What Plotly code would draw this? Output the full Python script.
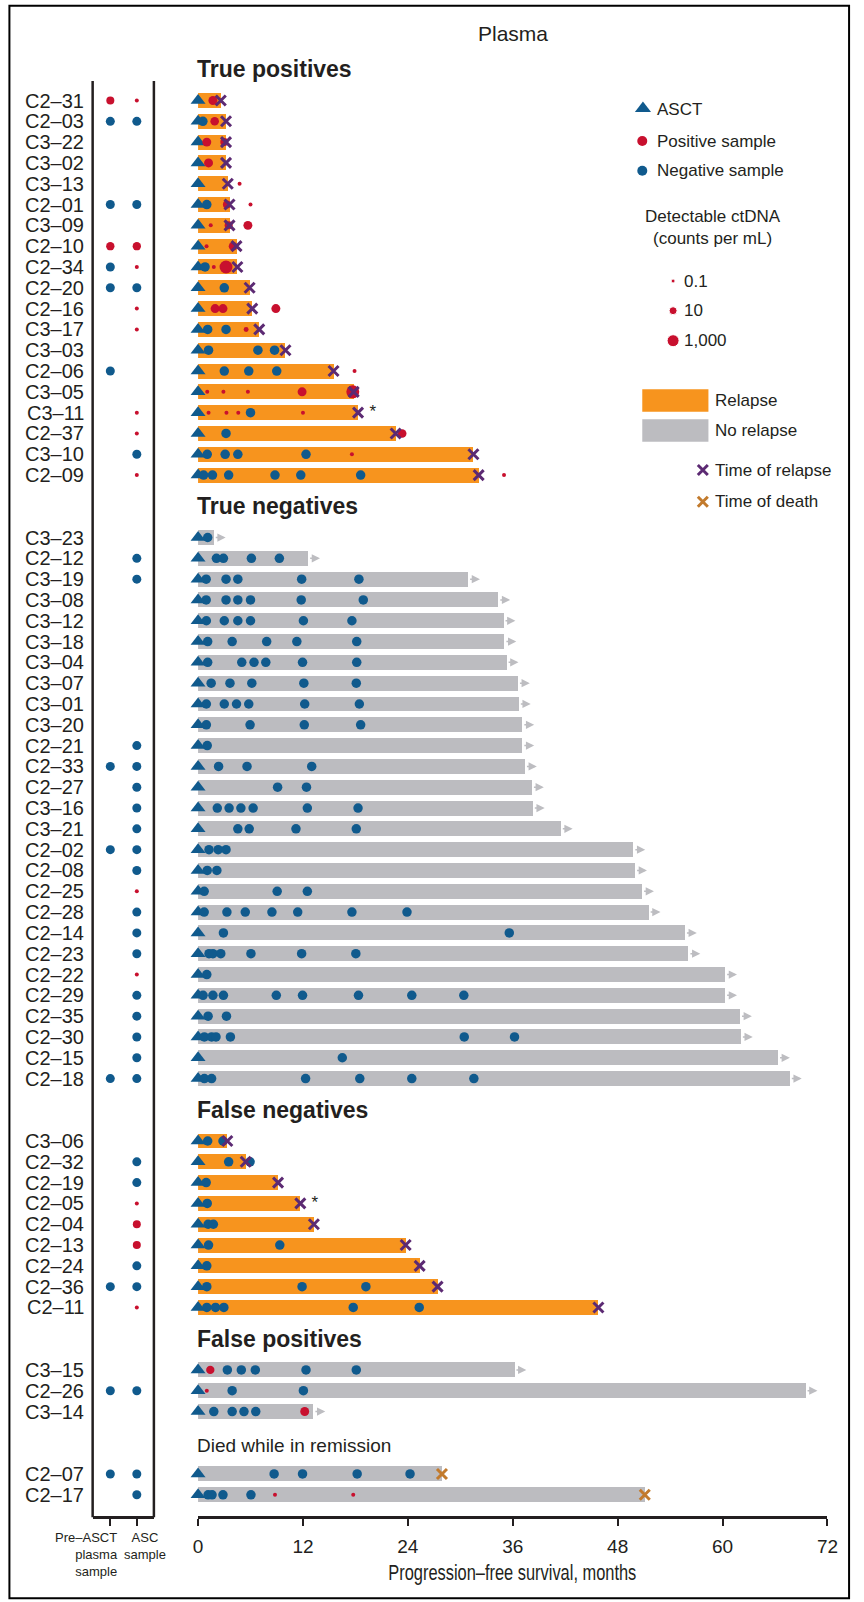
import math
import plotly.graph_objects as go

# ---------------- data ----------------
tp_ids = ["C2–31", "C2–03", "C3–22", "C3–02", "C3–13", "C2–01", "C3–09", "C2–10", "C2–34", "C2–20",
          "C2–16", "C3–17", "C3–03", "C2–06", "C3–05", "C3–11", "C2–37", "C3–10", "C2–09"]
tp_pfs = [2.6, 3.2, 3.2, 3.2, 3.4, 3.6, 3.6, 4.4, 4.5, 5.9, 6.2, 7.0, 10.0, 15.5, 17.8, 18.3, 22.6, 31.5, 32.1]
tp_neg = [[], [0.55], [], [], [], [1.0], [], [], [0.8], [3.0],
          [], [1.1, 3.2], [1.2, 6.85, 8.75], [3.0, 5.8, 9.0], [], [6.0], [3.2],
          [1.05, 3.1, 4.55, 12.35], [0.63, 1.65, 3.5, 8.8, 11.75, 18.6]]
tp_pos = [[(1.7, 30)], [(1.9, 20)], [(1.0, 30), (3.0, 10)], [(1.2, 30)], [(4.75, 0.1)],
          [(3.3, 10), (6.0, 0.1)], [(1.45, 0.1), (3.5, 10), (5.7, 30)], [(0.97, 0.1), (4.0, 20)],
          [(1.8, 0.1), (3.2, 3000)], [], [(1.95, 30), (2.85, 30), (8.9, 30)], [(5.5, 0.3)], [],
          [(17.9, 0.1)], [(1.05, 0.1), (2.9, 0.1), (5.7, 0.1), (11.9, 30), (17.7, 3000)],
          [(1.2, 0.1), (3.25, 0.1), (4.6, 0.1), (12.0, 0.1)], [(23.35, 20)], [(17.6, 0.1)], [(35.0, 0.1)]]
tp_pre = [10, "neg", None, None, None, "neg", None, 15, "neg", "neg",
          None, None, None, "neg", None, None, None, None, None]
tp_asc = [0.1, "neg", None, None, None, "neg", None, 15, 0.1, "neg",
          0.1, 0.1, None, None, None, 0.1, 0.1, "neg", 0.1]

tn_ids = ["C3–23", "C2–12", "C3–19", "C3–08", "C3–12", "C3–18", "C3–04", "C3–07", "C3–01", "C3–20",
          "C2–21", "C2–33", "C2–27", "C3–16", "C3–21", "C2–02", "C2–08", "C2–25", "C2–28", "C2–14",
          "C2–23", "C2–22", "C2–29", "C2–35", "C2–30", "C2–15", "C2–18"]
tn_pfs = [1.8, 12.6, 30.9, 34.35, 34.95, 35.05, 35.3, 36.6, 36.7, 37.1,
          37.1, 37.4, 38.2, 38.3, 41.5, 49.8, 50.0, 50.8, 51.55, 55.7,
          56.1, 60.3, 60.3, 62.0, 62.1, 66.35, 67.7]
tn_neg = [[1.1], [2.1, 2.9, 6.1, 9.3], [0.93, 3.2, 4.55, 11.85, 18.4], [0.93, 3.2, 4.55, 6.0, 11.8, 18.9],
          [0.95, 3.0, 4.55, 6.0, 12.05, 17.6], [1.1, 3.9, 7.85, 11.3, 18.15],
          [1.1, 5.0, 6.4, 7.75, 11.95, 18.15], [1.5, 3.65, 6.15, 12.1, 18.1],
          [0.95, 3.0, 4.4, 5.8, 12.2, 18.45], [0.95, 5.95, 12.15, 18.6],
          [1.05], [2.35, 5.6, 13.0], [9.1, 12.4], [2.2, 3.55, 4.9, 6.3, 12.5, 18.3], [4.55, 5.85, 11.2, 18.1],
          [1.25, 2.3, 3.2], [1.05, 2.15], [0.7, 9.05, 12.5], [0.7, 3.3, 5.4, 8.45, 11.4, 17.6, 23.9],
          [2.9, 35.6], [1.25, 1.7, 2.6, 6.05, 11.85, 18.05], [1.0],
          [0.57, 1.7, 2.9, 8.95, 11.95, 18.35, 24.45, 30.4], [1.15, 3.25],
          [0.72, 1.55, 2.05, 3.7, 30.45, 36.2], [16.5], [0.72, 1.55, 12.3, 18.5, 24.45, 31.55]]
tn_pos = [[] for _ in tn_ids]
tn_pre = [None, None, None, None, None, None, None, None, None, None,
          None, "neg", None, None, None, "neg", None, None, None, None,
          None, None, None, None, None, None, "neg"]
tn_asc = [None, "neg", "neg", None, None, None, None, None, None, None,
          "neg", "neg", "neg", "neg", "neg", "neg", "neg", 0.1, "neg", "neg",
          "neg", 0.1, "neg", "neg", "neg", "neg", "neg"]

fn_ids = ["C3–06", "C2–32", "C2–19", "C2–05", "C2–04", "C2–13", "C2–24", "C2–36", "C2–11"]
fn_pfs = [3.35, 5.45, 9.15, 11.7, 13.25, 23.75, 25.35, 27.4, 45.8]
fn_neg = [[1.1, 2.85], [3.5, 5.95], [0.93], [1.05], [1.15, 1.75], [1.2, 9.35], [1.0],
          [1.0, 11.9, 19.2], [1.0, 2.0, 2.95, 17.75, 25.3]]
fn_pos = [[] for _ in fn_ids]
fn_pre = [None, None, None, None, None, None, None, "neg", None]
fn_asc = [None, "neg", "neg", 0.1, 10, 10, "neg", "neg", 0.1]

fp_ids = ["C3–15", "C2–26", "C3–14"]
fp_pfs = [36.2, 69.5, 13.2]
fp_neg = [[3.35, 4.95, 6.55, 12.35, 18.1], [3.9, 12.05], [1.8, 3.9, 5.25, 6.6]]
fp_pos = [[(1.4, 15)], [(1.0, 0.1)], [(12.2, 30)]]
fp_pre = [None, "neg", None]
fp_asc = [None, "neg", None]

died_ids = ["C2–07", "C2–17"]
died_pfs = [27.9, 51.1]
died_neg = [[8.7, 11.95, 18.2, 24.25], [1.15, 1.6, 2.85, 6.05]]
died_pos = [[], [(8.8, 0.1), (17.75, 0.1)]]
died_pre = ["neg", None]
died_asc = ["neg", "neg"]

asterisk_ids = ["C3–11", "C2–05"]
asterisk_x = [20.0, 13.35]

x_ticks = [0, 12, 24, 36, 48, 60, 72]
legend_counts = [0.1, 10, 1000]
legend_count_labels = ["0.1", "10", "1,000"]

groups = [
    ("<b>True positives</b>", "relapse", tp_ids, tp_pfs, tp_neg, tp_pos, tp_pre, tp_asc),
    ("<b>True negatives</b>", "censored", tn_ids, tn_pfs, tn_neg, tn_pos, tn_pre, tn_asc),
    ("<b>False negatives</b>", "relapse", fn_ids, fn_pfs, fn_neg, fn_pos, fn_pre, fn_asc),
    ("<b>False positives</b>", "censored", fp_ids, fp_pfs, fp_neg, fp_pos, fp_pre, fp_asc),
    ("Died while in remission", "death", died_ids, died_pfs, died_neg, died_pos, died_pre, died_asc),
]

# ---------------- style ----------------
W, H = 864, 1602
ORANGE = "#F7941E"
GRAY = "#BCBCC0"
BLUE = "#105A8D"
RED = "#C8102E"
PURPLE = "#5C2A73"
DEATHC = "#C27A2C"
ARROWC = "#BDBDC1"
TXT = "#231F20"
FONT = "Liberation Sans, Arial, Helvetica, sans-serif"

X0_PX, X72_PX = 196.7, 838.0
ROW0_PX, STEP_PX = 100.5, 20.81
AXIS_PX = 1516.0
GAP_SLOTS = 2


def px(x):
    return x / W


def py(y):
    return 1 - y / H


def red_size(c):
    return max(3.5, 6 + 2 * math.log10(c))


# ---------------- layout rows ----------------
rows = []  # (slot, id, outcome, pfs, neg, pos, pre, asc)
headings = []
slot = 0
for title, outcome, ids, pfs, neg, pos, pre, asc in groups:
    headings.append((title, slot - (1.35 if outcome == "death" else 1.5), outcome))
    for i in range(len(ids)):
        rows.append((slot, ids[i], outcome, pfs[i], neg[i], pos[i], pre[i], asc[i]))
        slot += 1
    slot += GAP_SLOTS
slot_of = {r[1]: r[0] for r in rows}

fig = go.Figure()

# bars
fig.add_trace(go.Bar(
    x=[r[3] for r in rows], y=[r[0] for r in rows], base=0, orientation="h", width=0.72,
    marker=dict(color=[ORANGE if r[2] == "relapse" else GRAY for r in rows], line=dict(width=0)),
    xaxis="x", yaxis="y", showlegend=False, hoverinfo="skip"))

# ASCT triangles
fig.add_trace(go.Scatter(
    x=[0] * len(rows), y=[r[0] for r in rows], mode="markers",
    marker=dict(symbol="triangle-up", size=13, color=BLUE, opacity=1, line=dict(width=0)),
    xaxis="x", yaxis="y", cliponaxis=False, showlegend=False, hoverinfo="skip"))

# negative samples
nx, ny = [], []
for r in rows:
    for t in r[4]:
        nx.append(t)
        ny.append(r[0])
fig.add_trace(go.Scatter(x=nx, y=ny, mode="markers",
                         marker=dict(size=9.5, color=BLUE, opacity=1, line=dict(width=0)),
                         xaxis="x", yaxis="y", cliponaxis=False, showlegend=False, hoverinfo="skip"))

# positive samples (size ~ log counts per mL)
pxs, pys, pss = [], [], []
for r in rows:
    for t, c in r[5]:
        pxs.append(t)
        pys.append(r[0])
        pss.append(red_size(c))
fig.add_trace(go.Scatter(x=pxs, y=pys, mode="markers",
                         marker=dict(size=pss, color=RED, opacity=1, line=dict(width=0)),
                         xaxis="x", yaxis="y", cliponaxis=False, showlegend=False, hoverinfo="skip"))

# relapse / death crosses
for outcome, col in (("relapse", PURPLE), ("death", DEATHC)):
    sel = [r for r in rows if r[2] == outcome]
    fig.add_trace(go.Scatter(
        x=[r[3] for r in sel], y=[r[0] for r in sel], mode="markers",
        marker=dict(symbol="x-thin", size=10, opacity=1, line=dict(width=3, color=col), color=col),
        xaxis="x", yaxis="y", cliponaxis=False, showlegend=False, hoverinfo="skip"))

# asterisks
fig.add_trace(go.Scatter(
    x=asterisk_x, y=[slot_of[i] for i in asterisk_ids], mode="text", text=["*"] * len(asterisk_ids),
    textfont=dict(size=17, color=TXT, family=FONT), textposition="middle center",
    xaxis="x", yaxis="y", cliponaxis=False, showlegend=False, hoverinfo="skip"))

# left panel (pre-ASCT = 0, ASC = 1)
lx_n, ly_n, lx_p, ly_p, ls_p = [], [], [], [], []
for r in rows:
    for col_i, v in ((0, r[6]), (1, r[7])):
        if v is None:
            continue
        if v == "neg":
            lx_n.append(col_i)
            ly_n.append(r[0])
        else:
            lx_p.append(col_i)
            ly_p.append(r[0])
            ls_p.append(red_size(v))
fig.add_trace(go.Scatter(x=lx_n, y=ly_n, mode="markers",
                         marker=dict(size=9, color=BLUE, opacity=1, line=dict(width=0)),
                         xaxis="x2", yaxis="y", cliponaxis=False, showlegend=False, hoverinfo="skip"))
fig.add_trace(go.Scatter(x=lx_p, y=ly_p, mode="markers",
                         marker=dict(size=ls_p, color=RED, opacity=1, line=dict(width=0)),
                         xaxis="x2", yaxis="y", cliponaxis=False, showlegend=False, hoverinfo="skip"))

annotations = []
# censoring arrows
for r in rows:
    if r[2] == "censored":
        annotations.append(dict(x=r[3] + 1.35, y=r[0], ax=r[3] + 0.05, ay=r[0], xref="x", yref="y",
                                axref="x", ayref="y", showarrow=True, arrowhead=2, arrowsize=1.1,
                                arrowwidth=1.5, arrowcolor=ARROWC, text="", standoff=0, startstandoff=0))

# row labels
for r in rows:
    annotations.append(dict(x=px(82.5), y=r[0], xref="paper", yref="y", text=r[1], showarrow=False,
                            xanchor="right", yanchor="middle", font=dict(size=20, color=TXT, family=FONT)))

# headings
for title, s, outcome in headings:
    annotations.append(dict(x=px(194), y=s, xref="paper", yref="y", text=title, showarrow=False,
                            xanchor="left", yanchor="middle",
                            font=dict(size=19 if outcome == "death" else 23, color=TXT, family=FONT)))

# title
annotations.append(dict(x=px(518), y=py(33), xref="paper", yref="paper", text="Plasma", showarrow=False,
                        xanchor="center", yanchor="middle", font=dict(size=21, color=TXT, family=FONT)))

# axis title
annotations.append(dict(x=px(517.5), y=py(1572), xref="paper", yref="paper",
                        text="Progression–free survival, months", showarrow=False,
                        xanchor="center", yanchor="middle",
                        font=dict(size=22, color=TXT, family=FONT)))

# left panel labels
annotations.append(dict(x=px(117.5), y=py(1538), xref="paper", yref="paper", yanchor="top",
                        text="Pre–ASCT<br>plasma<br>sample", showarrow=False, xanchor="right", align="right",
                        font=dict(size=13, color=TXT, family=FONT), yshift=10))
annotations.append(dict(x=px(143), y=py(1538), xref="paper", yref="paper", yanchor="top",
                        text="ASC<br>sample", showarrow=False, xanchor="center", align="center",
                        font=dict(size=13, color=TXT, family=FONT), yshift=10))

# legend texts
leg_font = dict(size=17, color=TXT, family=FONT)
for txt, yy in (("ASCT", 109.3), ("Positive sample", 141), ("Negative sample", 170.7)):
    annotations.append(dict(x=px(662), y=py(yy), xref="paper", yref="paper", text=txt, showarrow=False,
                            xanchor="left", yanchor="middle", font=leg_font))
annotations.append(dict(x=px(721.7), y=py(227), xref="paper", yref="paper",
                        text="Detectable ctDNA<br>(counts per mL)", showarrow=False,
                        xanchor="center", yanchor="middle", align="center", font=leg_font))
for lab, yy in zip(legend_count_labels, (281, 310.7, 340.7)):
    annotations.append(dict(x=px(690), y=py(yy), xref="paper", yref="paper", text=lab, showarrow=False,
                            xanchor="left", yanchor="middle", font=leg_font))
for txt, yy in (("Relapse", 400.5), ("No relapse", 430.5)):
    annotations.append(dict(x=px(721), y=py(yy), xref="paper", yref="paper", text=txt, showarrow=False,
                            xanchor="left", yanchor="middle", font=leg_font))
for txt, yy in (("Time of relapse", 470), ("Time of death", 501.7)):
    annotations.append(dict(x=px(721), y=py(yy), xref="paper", yref="paper", text=txt, showarrow=False,
                            xanchor="left", yanchor="middle", font=leg_font))

# legend markers (pixel overlay axes)
fig.add_trace(go.Scatter(x=[650], y=[108.5], mode="markers",
                         marker=dict(symbol="triangle-up", size=14, color=BLUE, opacity=1),
                         xaxis="x3", yaxis="y3", showlegend=False, hoverinfo="skip", cliponaxis=False))
fig.add_trace(go.Scatter(x=[649.3, 649.3], y=[141, 170.7], mode="markers",
                         marker=dict(size=10, color=[RED, BLUE], opacity=1),
                         xaxis="x3", yaxis="y3", showlegend=False, hoverinfo="skip", cliponaxis=False))
fig.add_trace(go.Scatter(x=[680.7] * 3, y=[281, 310.7, 340.7], mode="markers",
                         marker=dict(size=[red_size(c) for c in legend_counts], color=RED, opacity=1),
                         xaxis="x3", yaxis="y3", showlegend=False, hoverinfo="skip", cliponaxis=False))
fig.add_trace(go.Scatter(x=[711, 711], y=[470, 501.7], mode="markers",
                         marker=dict(symbol="x-thin", size=10, color=[PURPLE, DEATHC], opacity=1,
                                     line=dict(width=3, color=[PURPLE, DEATHC])),
                         xaxis="x3", yaxis="y3", showlegend=False, hoverinfo="skip", cliponaxis=False))

shapes = [
    # outer frame
    dict(type="rect", xref="paper", yref="paper", x0=px(4.5), x1=px(860), y0=py(5.7), y1=py(1598.3),
         line=dict(color="#000000", width=2)),
    # left panel vertical lines
    dict(type="line", xref="paper", yref="paper", x0=px(89.3), x1=px(89.3), y0=py(81), y1=py(AXIS_PX + 1.2),
         line=dict(color=TXT, width=2.5)),
    dict(type="line", xref="paper", yref="paper", x0=px(151.7), x1=px(151.7), y0=py(81), y1=py(AXIS_PX + 1.2),
         line=dict(color=TXT, width=2.5)),
    # legend rectangles
    dict(type="rect", xref="paper", yref="paper", x0=px(649.3), x1=px(716.7), y0=py(389.3), y1=py(411.7),
         fillcolor=ORANGE, line=dict(width=0)),
    dict(type="rect", xref="paper", yref="paper", x0=px(649.3), x1=px(716.7), y0=py(419.3), y1=py(441.7),
         fillcolor=GRAY, line=dict(width=0)),
]

y_top = -ROW0_PX / STEP_PX
y_bot = (AXIS_PX - ROW0_PX) / STEP_PX

fig.update_layout(
    width=W, height=H, autosize=False, margin=dict(l=0, r=0, t=0, b=0),
    paper_bgcolor="white", plot_bgcolor="rgba(0,0,0,0)", bargap=0,
    font=dict(family=FONT, color=TXT),
    xaxis=dict(domain=[px(X0_PX), px(X72_PX)], range=[0, 72], anchor="y", showgrid=False, zeroline=False,
               showline=True, linecolor=TXT, linewidth=2.5, ticks="outside", ticklen=7, tickwidth=2,
               tickcolor=TXT, tickvals=x_ticks, ticktext=[str(v) for v in x_ticks],
               tickfont=dict(size=19, color=TXT, family=FONT), ticklabelstandoff=5, fixedrange=True),
    yaxis=dict(domain=[1 - AXIS_PX / H, 1], range=[y_bot, y_top], anchor="x", showgrid=False, zeroline=False,
               showline=False, showticklabels=False, ticks="", fixedrange=True),
    xaxis2=dict(domain=[px(89.3), px(151.7)], range=[(89.3 - 107.3) / 27, (151.7 - 107.3) / 27], anchor="y",
                showgrid=False, zeroline=False, showline=True, linecolor=TXT, linewidth=2.5,
                ticks="outside", ticklen=7, tickwidth=2, tickcolor=TXT, tickvals=[0, 1],
                showticklabels=False, fixedrange=True),
    xaxis3=dict(domain=[0, 1], range=[0, W], anchor="y3", visible=False, fixedrange=True),
    yaxis3=dict(domain=[0, 1], range=[H, 0], anchor="x3", visible=False, fixedrange=True),
    annotations=annotations, shapes=shapes, showlegend=False,
)

post = """
document.body.style.margin='0px';
document.querySelectorAll('text').forEach(function(t){
  if (t.textContent.indexOf('Progression') === 0) {
    t.setAttribute('textLength', '248');
    t.setAttribute('lengthAdjust', 'spacingAndGlyphs');
  }
});
"""

fig.write_html("out.html", config={"displayModeBar": False, "staticPlot": True}, post_script=post)
